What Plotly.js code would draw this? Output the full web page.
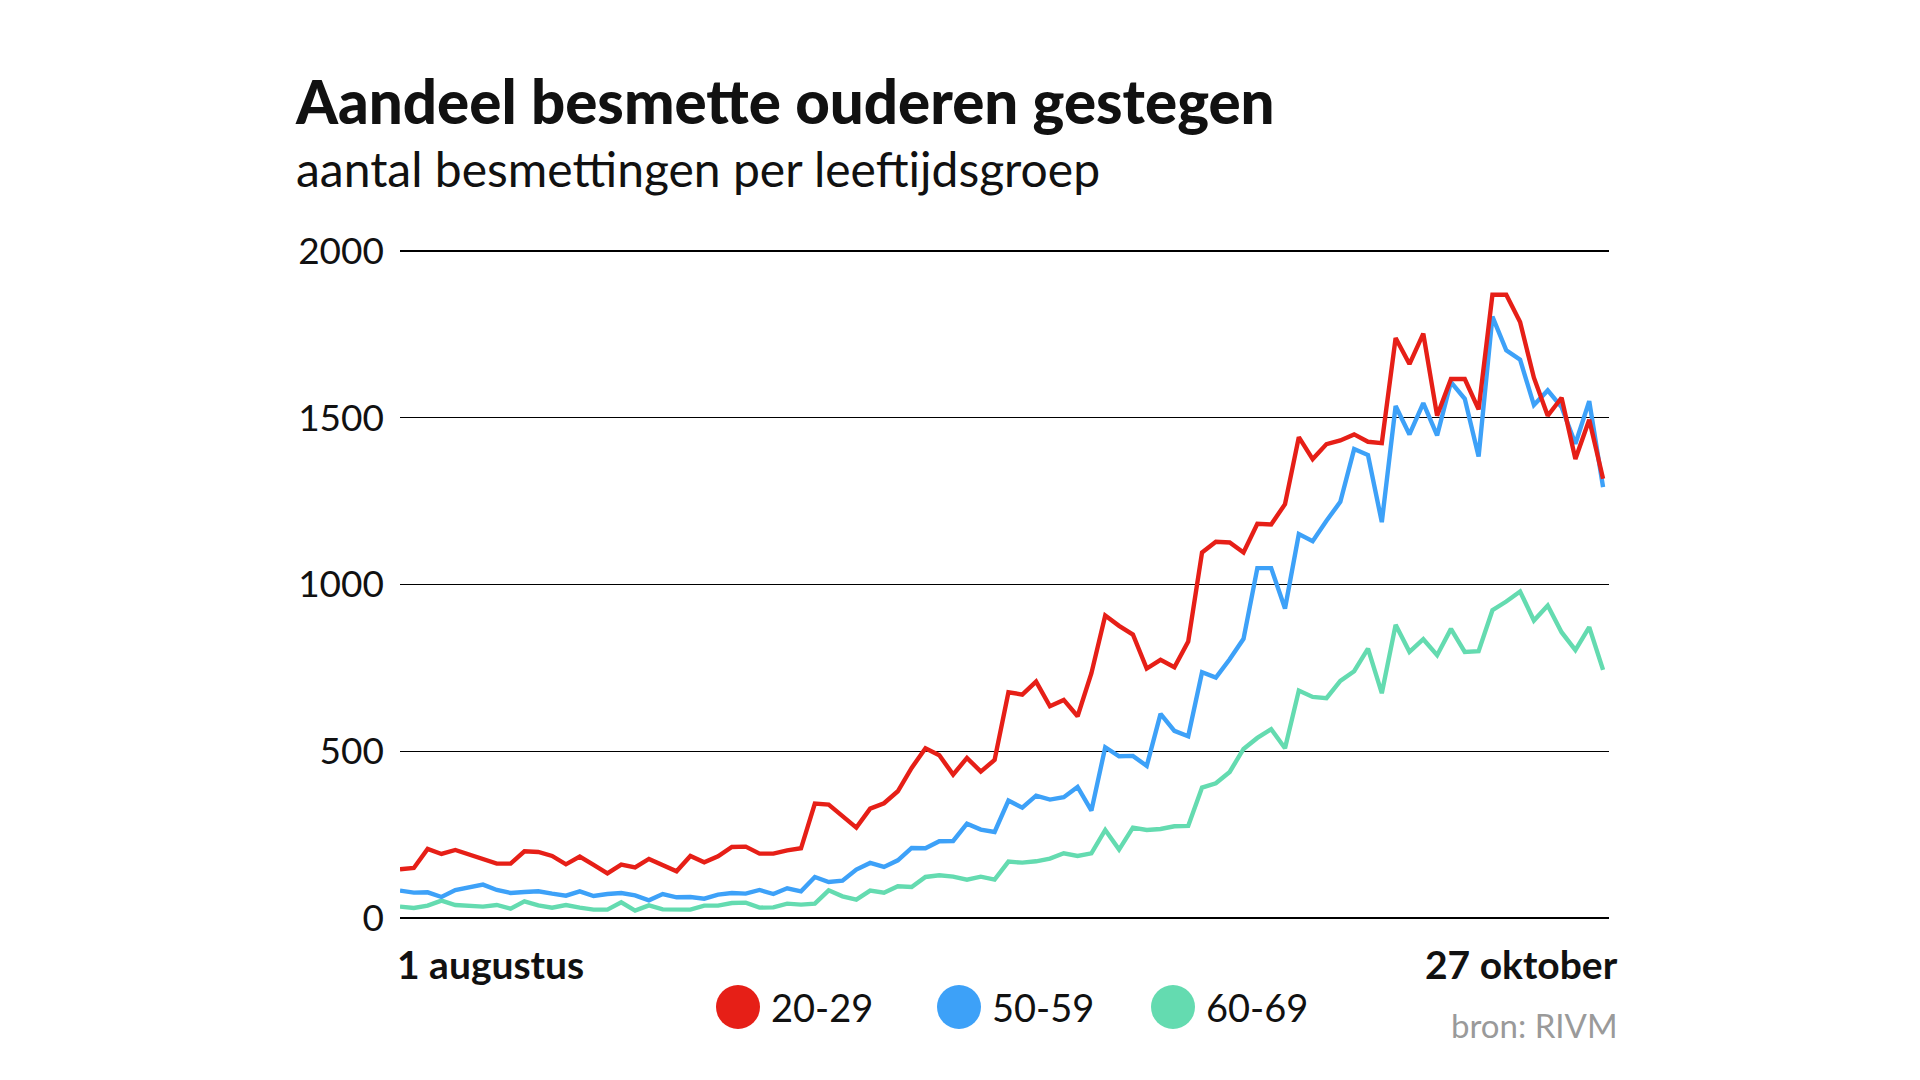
<!DOCTYPE html>
<html>
<head>
<meta charset="utf-8">
<script src="https://cdn.plot.ly/plotly-3.0.1.min.js"></script>
<style>
  html, body { margin: 0; padding: 0; background: #ffffff; }
  #chart { width: 1920px; height: 1080px; }
</style>
</head>
<body>
<div id="chart"></div>
<script>
// Dagelijkse besmettingen per leeftijdsgroep, 1 augustus t/m 27 oktober
const startDate = '2020-08-01';
const dayCount = 88;

const cases2029 = [
    146, 150, 207, 192, 204, 191, 178, 163, 163, 200,
    198, 186, 161, 184, 159, 134, 160, 152, 177, 159,
    140, 186, 167, 185, 213, 214, 193, 193, 203, 209,
    343, 340, 307, 271, 328, 344, 380, 450, 509, 488,
    430, 480, 439, 474, 677, 670, 709, 635, 654, 605,
    734, 907, 876, 850, 748, 774, 752, 829, 1096, 1128,
    1126, 1096, 1182, 1180, 1241, 1442, 1376, 1421, 1432, 1450,
    1428, 1424, 1739, 1661, 1752, 1506, 1616, 1616, 1525, 1869,
    1869, 1787, 1620, 1506, 1560, 1376, 1494, 1317
];

const cases5059 = [
    82, 76, 77, 63, 84, 91, 100, 84, 75, 78,
    80, 73, 67, 80, 66, 72, 75, 68, 53, 72,
    62, 63, 58, 70, 75, 73, 84, 72, 89, 80,
    123, 108, 112, 145, 165, 153, 173, 210, 209, 230,
    231, 283, 265, 258, 352, 331, 367, 355, 362, 393,
    322, 512, 485, 486, 456, 612, 561, 545, 737, 721,
    776, 837, 1049, 1049, 928, 1151, 1130, 1191, 1248, 1406,
    1388, 1187, 1535, 1450, 1544, 1447, 1607, 1557, 1384, 1803,
    1702, 1674, 1538, 1582, 1532, 1422, 1550, 1292
];

const cases6069 = [
    34, 30, 37, 52, 39, 37, 34, 39, 28, 50,
    38, 31, 39, 31, 25, 25, 47, 22, 38, 26,
    25, 25, 37, 37, 45, 46, 31, 32, 43, 40,
    43, 83, 65, 55, 82, 76, 95, 93, 123, 128,
    124, 115, 124, 115, 169, 166, 170, 178, 194, 186,
    194, 264, 205, 271, 264, 267, 275, 276, 391, 404,
    438, 507, 540, 566, 509, 682, 663, 659, 711, 740,
    808, 674, 879, 798, 836, 788, 867, 798, 800, 923,
    949, 979, 892, 937, 857, 803, 872, 744
];

const groupNames = ['20-29', '50-59', '60-69'];
const yTicks = [0, 500, 1000, 1500, 2000];
const xLabels = ['1 augustus', '27 oktober'];

const colors = {
    red: '#e61f17',
    blue: '#3da1f8',
    green: '#64dbb0',
    text: '#111111',
    grey: '#9a9a9a'
};

const FONT = 'Lato, "Open Sans", sans-serif';

// build the list of dates
const dates = [];
for (let i = 0; i < dayCount; i++) {
    const d = new Date(startDate + 'T00:00:00Z');
    d.setUTCDate(d.getUTCDate() + i);
    dates.push(d.toISOString().slice(0, 10));
}

// plot area in pixels (a little padding so the 0 and 2000 gridlines are drawn)
const plotLeft = 400, plotRight = 1609, plotTop = 249, plotBottom = 920;
const px = x => (x - plotLeft) / (plotRight - plotLeft);
const py = y => (plotBottom - y) / (plotBottom - plotTop);

const series = [cases2029, cases5059, cases6069];
const seriesColors = [colors.red, colors.blue, colors.green];

// draw order: green at the back, red on top
const traces = [2, 1, 0].map(i => ({
    x: dates,
    y: series[i],
    type: 'scatter',
    mode: 'lines',
    name: groupNames[i],
    line: { color: seriesColors[i], width: 4.4, shape: 'linear' },
    hoverinfo: 'x+y+name',
    showlegend: false
}));

const legendX = [738, 959, 1173];
const legendY = 1007;

const shapes = groupNames.map((g, i) => ({
    type: 'circle',
    xref: 'paper', yref: 'paper',
    xsizemode: 'pixel', ysizemode: 'pixel',
    xanchor: px(legendX[i]), yanchor: py(legendY),
    x0: -22, x1: 22, y0: -22, y1: 22,
    fillcolor: seriesColors[i],
    line: { width: 0 }
}));

const annotations = [
    {
        text: 'Aandeel besmette ouderen gestegen',
        x: px(293), y: py(101), xanchor: 'left', yanchor: 'middle',
        font: { family: FONT, size: 60, weight: 900, color: colors.text }
    },
    {
        text: 'aantal besmettingen per leeftijdsgroep',
        x: px(294), y: py(168), xanchor: 'left', yanchor: 'middle',
        font: { family: FONT, size: 48, color: colors.text }
    },
    {
        text: '<b>' + xLabels[0] + '</b>',
        x: px(395), y: py(964), xanchor: 'left', yanchor: 'middle',
        font: { family: FONT, size: 39, color: colors.text }
    },
    {
        text: '<b>' + xLabels[1] + '</b>',
        x: px(1620), y: py(964), xanchor: 'right', yanchor: 'middle',
        font: { family: FONT, size: 39, color: colors.text }
    },
    {
        text: 'bron: RIVM',
        x: px(1620), y: py(1025), xanchor: 'right', yanchor: 'middle',
        font: { family: FONT, size: 33, color: colors.grey }
    }
].concat(groupNames.map((g, i) => ({
    text: g,
    x: px(legendX[i] + 31), y: py(legendY), xanchor: 'left', yanchor: 'middle',
    font: { family: FONT, size: 38, color: colors.text }
}))).map(a => ({ ...a, xref: 'paper', yref: 'paper', showarrow: false }));

const layout = {
    width: 1920,
    height: 1080,
    paper_bgcolor: '#ffffff',
    plot_bgcolor: '#ffffff',
    font: { family: FONT, size: 37, color: colors.text },
    margin: { l: plotLeft, r: 1920 - plotRight, t: plotTop, b: 1080 - plotBottom, pad: 0 },
    showlegend: false,
    xaxis: {
        type: 'date',
        range: [dates[0], '2020-10-27 10:19'],
        showgrid: false,
        zeroline: false,
        showline: false,
        showticklabels: false,
        ticks: ''
    },
    yaxis: {
        range: [-6, 2006],
        tickvals: yTicks,
        ticktext: yTicks.map(String),
        showgrid: true,
        gridcolor: '#000000',
        gridwidth: 1.4,
        zeroline: false,
        showline: false,
        ticks: '',
        ticklabelstandoff: 15,
        tickfont: { family: FONT, size: 37, color: colors.text }
    },
    shapes: shapes,
    annotations: annotations
};

Plotly.newPlot('chart', traces, layout, { displayModeBar: false, staticPlot: true });
</script>
</body>
</html>
